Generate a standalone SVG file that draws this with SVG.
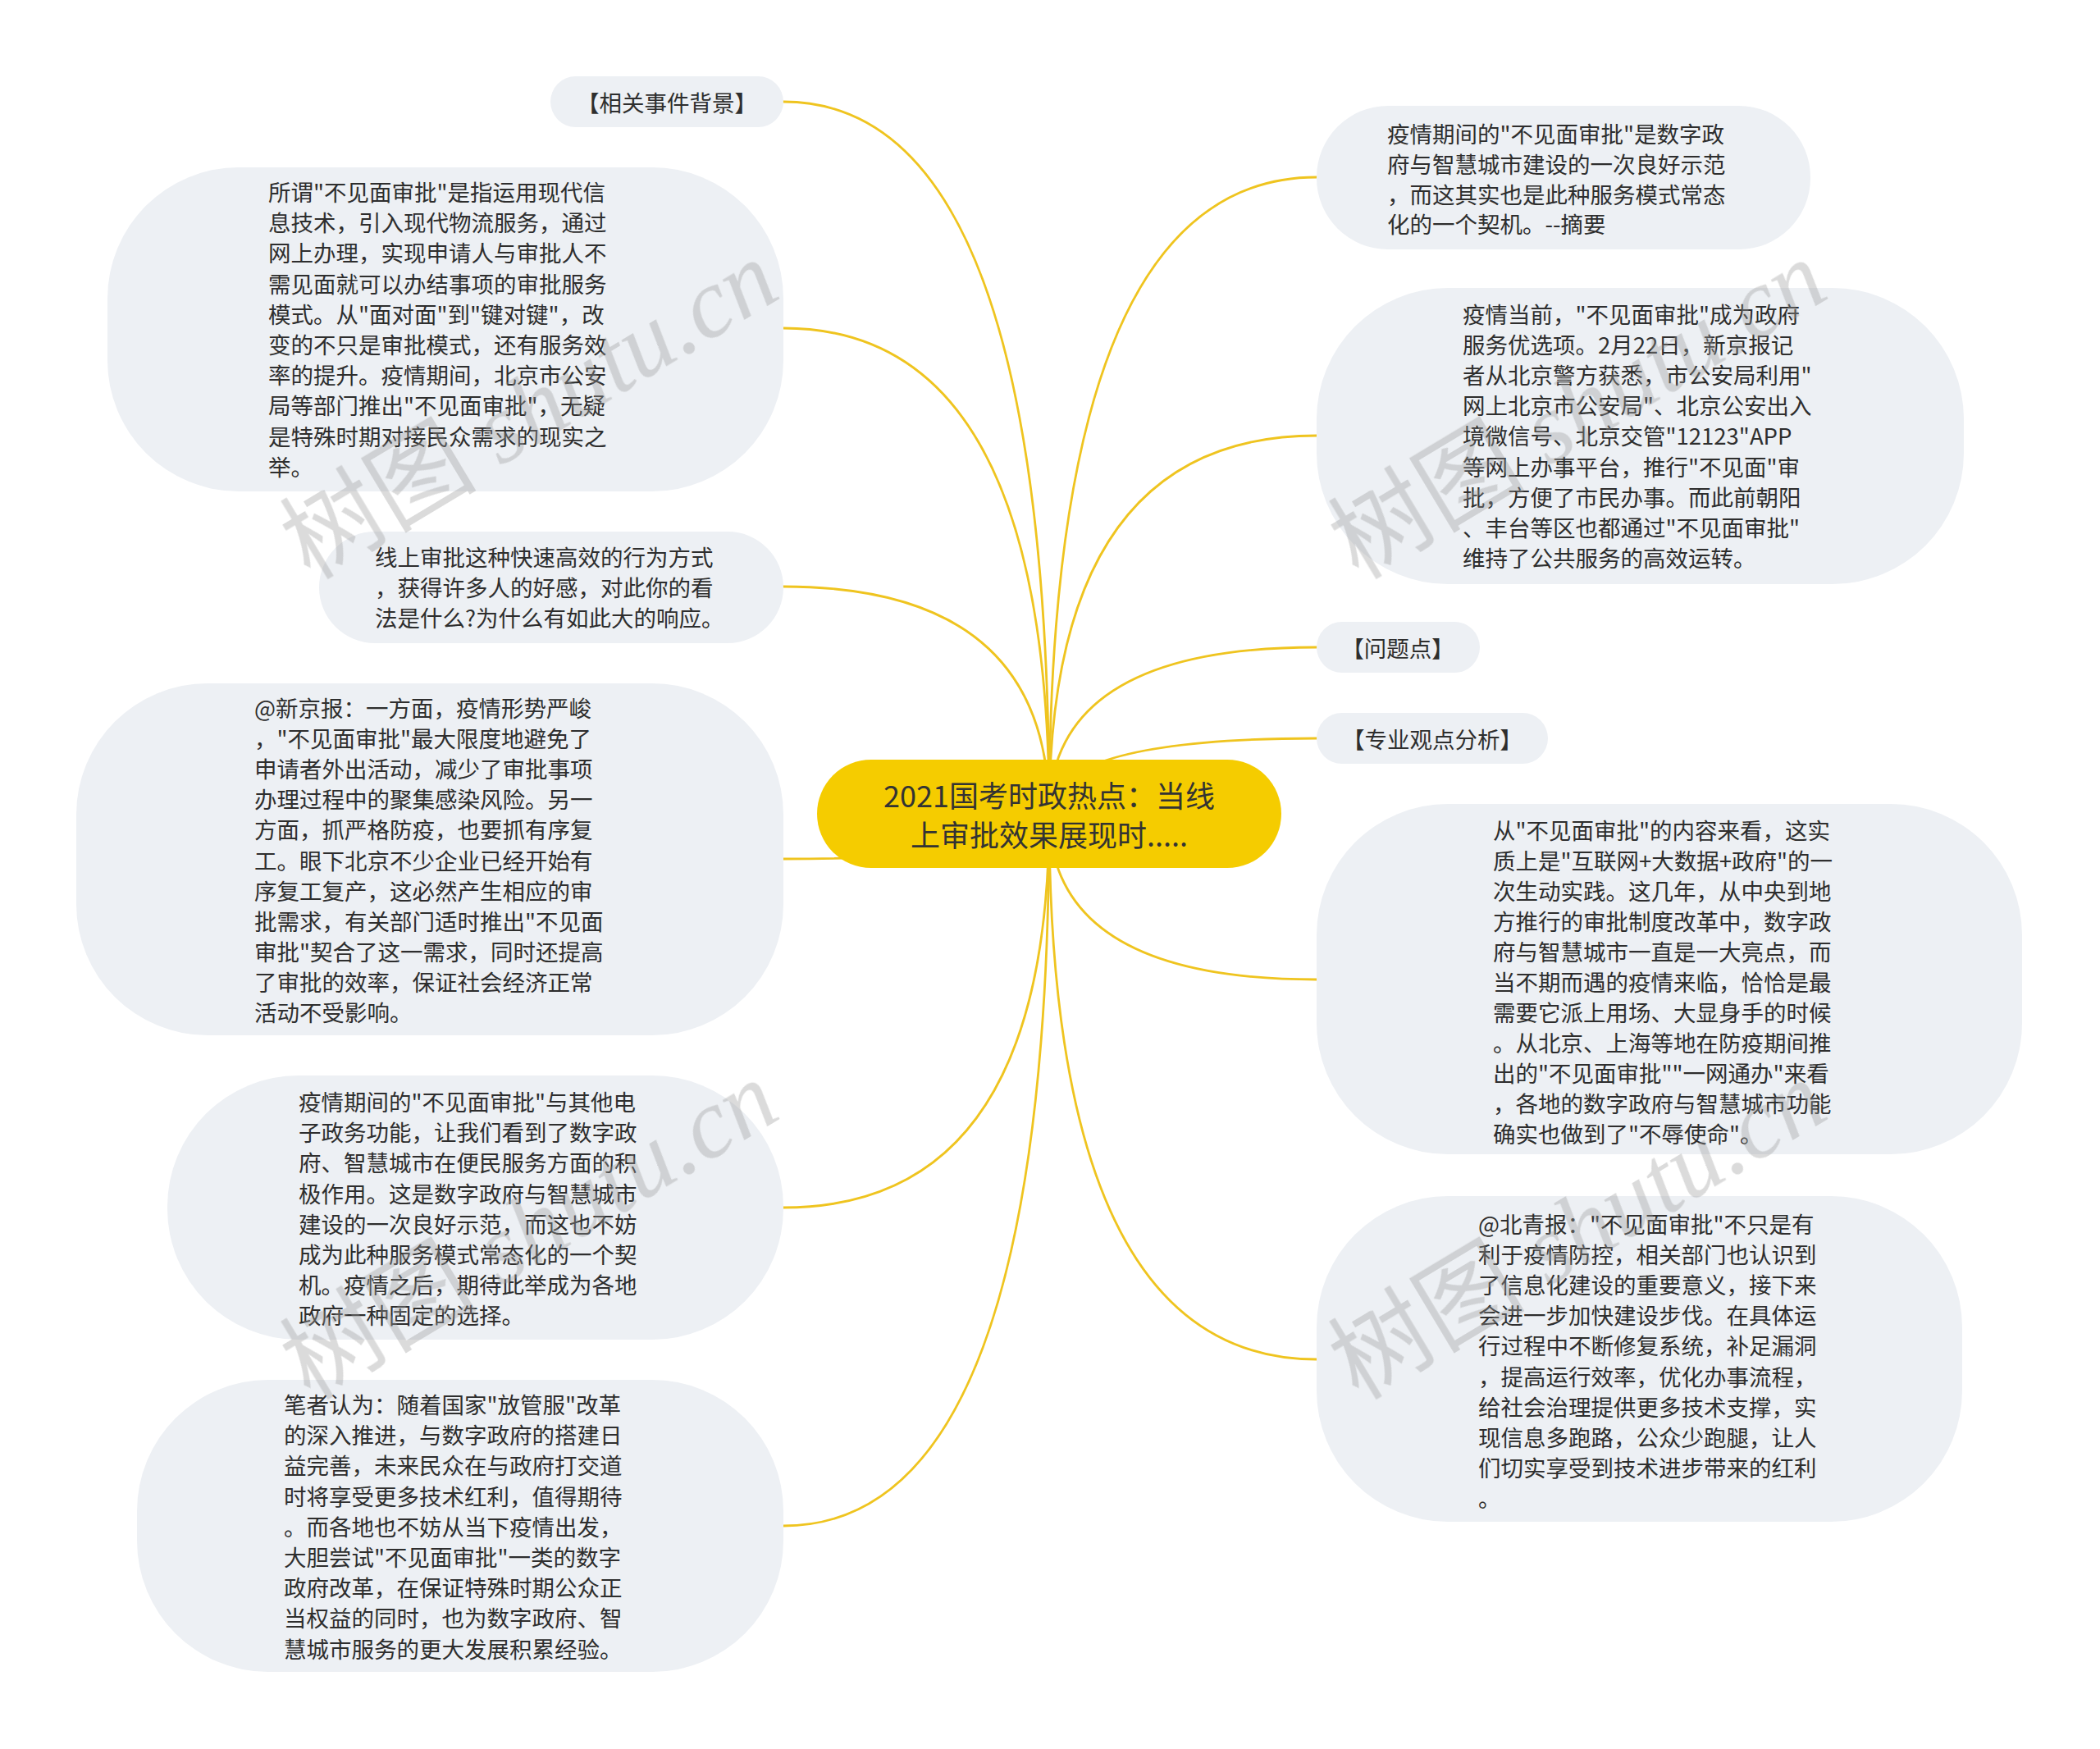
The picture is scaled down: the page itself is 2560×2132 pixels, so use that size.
<svg xmlns="http://www.w3.org/2000/svg" width="2560" height="2132" viewBox="0 0 2560 2132">
<style>
.bg{fill:#ffffff}
.n rect{fill:#edf0f4}
.n text{font-family:"Noto Sans CJK SC","Liberation Sans",sans-serif;font-size:27.5px;fill:#2e2e2e;dominant-baseline:central}
.c text{font-family:"Noto Sans CJK SC","Liberation Sans",sans-serif;font-size:36px;fill:#333333;dominant-baseline:central;text-anchor:middle}
.lk path{fill:none;stroke:#efc41f;stroke-width:2.8;stroke-linecap:round}
.wm{font-size:120px;fill:#9a9a9a;opacity:0.36}
.wm .cj{font-family:"Noto Sans CJK SC",sans-serif}
.wm .la{font-family:"Liberation Serif",serif;font-style:italic}
</style>
<rect class="bg" x="0" y="0" width="2560" height="2132"/>
<g id="connectors" class="lk">
<path d="M1279,992 Q1279,124 955,124"/>
<path d="M1279,992 Q1279,400 955,400"/>
<path d="M1279,992 Q1279,715 955,715"/>
<path d="M1279,992 Q1279,1047 955,1047"/>
<path d="M1279,992 Q1279,1472 955,1472"/>
<path d="M1279,992 Q1279,1860 955,1860"/>
<path d="M1279,992 Q1279,216 1605,216"/>
<path d="M1279,992 Q1279,531 1605,531"/>
<path d="M1279,992 Q1279,789 1605,789"/>
<path d="M1279,992 Q1279,900 1605,900"/>
<path d="M1279,992 Q1279,1194 1605,1194"/>
<path d="M1279,992 Q1279,1657 1605,1657"/>
</g>
<g id="center" class="c">
<rect x="996" y="926" width="566" height="132" rx="66" fill="#f5cc00"/>
<text><tspan x="1279" y="968">2021国考时政热点：当线</tspan><tspan x="1279" y="1016">上审批效果展现时.....</tspan></text>
</g>
<g id="node-bg" class="n">
<rect x="671" y="93" width="284" height="62" rx="31"/>
<text x="813" y="124" text-anchor="middle">【相关事件背景】</text>
</g>
<g id="node-define" class="n">
<rect x="131" y="204" width="824" height="395" rx="160"/>
<text><tspan x="327" y="233">所谓"不见面审批"是指运用现代信</tspan><tspan x="327" y="270.2">息技术，引入现代物流服务，通过</tspan><tspan x="327" y="307.4">网上办理，实现申请人与审批人不</tspan><tspan x="327" y="344.6">需见面就可以办结事项的审批服务</tspan><tspan x="327" y="381.8">模式。从"面对面"到"键对键"，改</tspan><tspan x="327" y="419">变的不只是审批模式，还有服务效</tspan><tspan x="327" y="456.2">率的提升。疫情期间，北京市公安</tspan><tspan x="327" y="493.4">局等部门推出"不见面审批"，无疑</tspan><tspan x="327" y="530.6">是特殊时期对接民众需求的现实之</tspan><tspan x="327" y="567.8">举。</tspan></text>
</g>
<g id="node-question-text" class="n">
<rect x="389" y="648" width="566" height="136" rx="68"/>
<text><tspan x="457" y="678">线上审批这种快速高效的行为方式</tspan><tspan x="457" y="715.2">，获得许多人的好感，对此你的看</tspan><tspan x="457" y="752.4">法是什么?为什么有如此大的响应。</tspan></text>
</g>
<g id="node-xinjing" class="n">
<rect x="93" y="833" width="862" height="429" rx="160"/>
<text><tspan x="310" y="862">@新京报：一方面，疫情形势严峻</tspan><tspan x="310" y="899.1">，"不见面审批"最大限度地避免了</tspan><tspan x="310" y="936.2">申请者外出活动，减少了审批事项</tspan><tspan x="310" y="973.3">办理过程中的聚集感染风险。另一</tspan><tspan x="310" y="1010.4">方面，抓严格防疫，也要抓有序复</tspan><tspan x="310" y="1047.5">工。眼下北京不少企业已经开始有</tspan><tspan x="310" y="1084.6">序复工复产，这必然产生相应的审</tspan><tspan x="310" y="1121.7">批需求，有关部门适时推出"不见面</tspan><tspan x="310" y="1158.8">审批"契合了这一需求，同时还提高</tspan><tspan x="310" y="1195.9">了审批的效率，保证社会经济正常</tspan><tspan x="310" y="1233">活动不受影响。</tspan></text>
</g>
<g id="node-egov" class="n">
<rect x="204" y="1311" width="751" height="322" rx="160"/>
<text><tspan x="364" y="1342">疫情期间的"不见面审批"与其他电</tspan><tspan x="364" y="1379.2">子政务功能，让我们看到了数字政</tspan><tspan x="364" y="1416.4">府、智慧城市在便民服务方面的积</tspan><tspan x="364" y="1453.6">极作用。这是数字政府与智慧城市</tspan><tspan x="364" y="1490.8">建设的一次良好示范，而这也不妨</tspan><tspan x="364" y="1528">成为此种服务模式常态化的一个契</tspan><tspan x="364" y="1565.2">机。疫情之后，期待此举成为各地</tspan><tspan x="364" y="1602.4">政府一种固定的选择。</tspan></text>
</g>
<g id="node-author" class="n">
<rect x="167" y="1682" width="788" height="356" rx="160"/>
<text><tspan x="346" y="1711">笔者认为：随着国家"放管服"改革</tspan><tspan x="346" y="1748.2">的深入推进，与数字政府的搭建日</tspan><tspan x="346" y="1785.4">益完善，未来民众在与政府打交道</tspan><tspan x="346" y="1822.6">时将享受更多技术红利，值得期待</tspan><tspan x="346" y="1859.8">。而各地也不妨从当下疫情出发，</tspan><tspan x="346" y="1897">大胆尝试"不见面审批"一类的数字</tspan><tspan x="346" y="1934.2">政府改革，在保证特殊时期公众正</tspan><tspan x="346" y="1971.4">当权益的同时，也为数字政府、智</tspan><tspan x="346" y="2008.6">慧城市服务的更大发展积累经验。</tspan></text>
</g>
<g id="node-summary" class="n">
<rect x="1605" y="129" width="602" height="175" rx="87"/>
<text><tspan x="1691" y="162">疫情期间的"不见面审批"是数字政</tspan><tspan x="1691" y="198.8">府与智慧城市建设的一次良好示范</tspan><tspan x="1691" y="235.6">，而这其实也是此种服务模式常态</tspan><tspan x="1691" y="272.4">化的一个契机。--摘要</tspan></text>
</g>
<g id="node-current" class="n">
<rect x="1605" y="351" width="789" height="361" rx="160"/>
<text><tspan x="1783" y="382">疫情当前，"不见面审批"成为政府</tspan><tspan x="1783" y="419.1">服务优选项。2月22日，新京报记</tspan><tspan x="1783" y="456.2">者从北京警方获悉，市公安局利用"</tspan><tspan x="1783" y="493.3">网上北京市公安局"、北京公安出入</tspan><tspan x="1783" y="530.4">境微信号、北京交管"12123"APP</tspan><tspan x="1783" y="567.5">等网上办事平台，推行"不见面"审</tspan><tspan x="1783" y="604.6">批，方便了市民办事。而此前朝阳</tspan><tspan x="1783" y="641.7">、丰台等区也都通过"不见面审批"</tspan><tspan x="1783" y="678.8">维持了公共服务的高效运转。</tspan></text>
</g>
<g id="node-problem" class="n">
<rect x="1605" y="758" width="199" height="62" rx="31"/>
<text x="1704" y="789" text-anchor="middle">【问题点】</text>
</g>
<g id="node-analysis" class="n">
<rect x="1605" y="869" width="282" height="62" rx="31"/>
<text x="1746" y="900" text-anchor="middle">【专业观点分析】</text>
</g>
<g id="node-content" class="n">
<rect x="1605" y="980" width="860" height="427" rx="160"/>
<text><tspan x="1820" y="1011">从"不见面审批"的内容来看，这实</tspan><tspan x="1820" y="1048">质上是"互联网+大数据+政府"的一</tspan><tspan x="1820" y="1085">次生动实践。这几年，从中央到地</tspan><tspan x="1820" y="1122">方推行的审批制度改革中，数字政</tspan><tspan x="1820" y="1159">府与智慧城市一直是一大亮点，而</tspan><tspan x="1820" y="1196">当不期而遇的疫情来临，恰恰是最</tspan><tspan x="1820" y="1233">需要它派上用场、大显身手的时候</tspan><tspan x="1820" y="1270">。从北京、上海等地在防疫期间推</tspan><tspan x="1820" y="1307">出的"不见面审批""一网通办"来看</tspan><tspan x="1820" y="1344">，各地的数字政府与智慧城市功能</tspan><tspan x="1820" y="1381">确实也做到了"不辱使命"。</tspan></text>
</g>
<g id="node-beiqing" class="n">
<rect x="1605" y="1458" width="787" height="397" rx="160"/>
<text><tspan x="1802" y="1491">@北青报："不见面审批"不只是有</tspan><tspan x="1802" y="1528.1">利于疫情防控，相关部门也认识到</tspan><tspan x="1802" y="1565.2">了信息化建设的重要意义，接下来</tspan><tspan x="1802" y="1602.3">会进一步加快建设步伐。在具体运</tspan><tspan x="1802" y="1639.4">行过程中不断修复系统，补足漏洞</tspan><tspan x="1802" y="1676.5">，提高运行效率，优化办事流程，</tspan><tspan x="1802" y="1713.6">给社会治理提供更多技术支撑，实</tspan><tspan x="1802" y="1750.7">现信息多跑路，公众少跑腿，让人</tspan><tspan x="1802" y="1787.8">们切实享受到技术进步带来的红利</tspan><tspan x="1802" y="1824.9">。</tspan></text>
</g>
<g id="watermarks" class="wm">
<text transform="translate(378,708) rotate(-31)"><tspan class="cj">树图</tspan><tspan class="la"> shutu.cn</tspan></text>
<text transform="translate(1656,708) rotate(-31)"><tspan class="cj">树图</tspan><tspan class="la"> shutu.cn</tspan></text>
<text transform="translate(378,1708) rotate(-31)"><tspan class="cj">树图</tspan><tspan class="la"> shutu.cn</tspan></text>
<text transform="translate(1656,1708) rotate(-31)"><tspan class="cj">树图</tspan><tspan class="la"> shutu.cn</tspan></text>
</g>
</svg>
